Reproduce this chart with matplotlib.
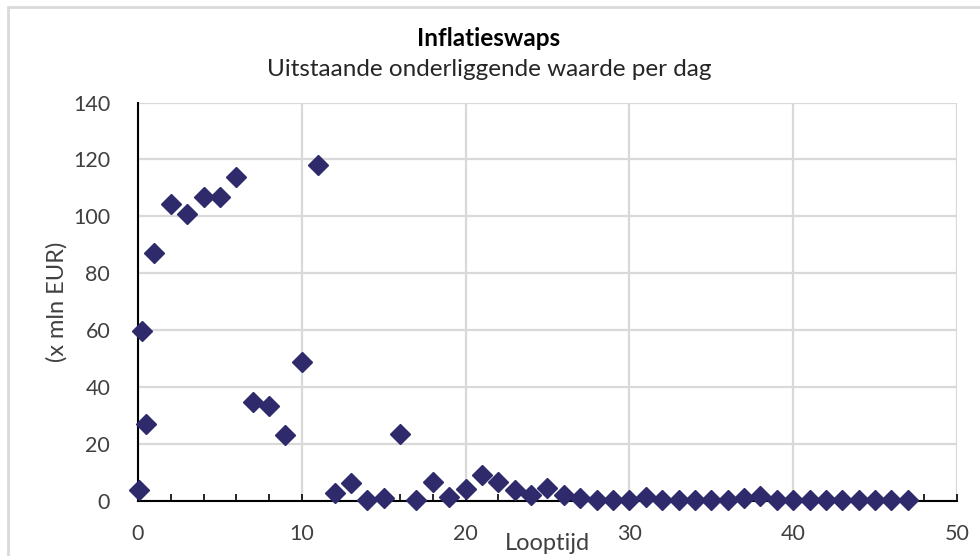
import numpy as np
import matplotlib.pyplot as plt
from matplotlib.patches import Rectangle

plt.rcParams['font.family'] = ['Lato', 'DejaVu Sans']

# looptijd in jaren (eerste drie: 1 maand, 3 maanden, 6 maanden)
looptijd = np.array([0.08, 0.25, 0.5] + list(range(1, 48)), dtype=float)
waarde = np.array([
    3.7, 59.5, 27.0,                                   # 0.08, 0.25, 0.5
    87.0, 104.5, 100.8, 106.7, 106.7, 114.0, 34.7,     # 1-7
    33.4, 23.1, 48.7, 118.1, 2.6, 6.1, 0.1,            # 8-14
    0.8, 23.4, 0.1, 6.7, 1.4, 4.1, 9.1,                # 15-21
    6.7, 3.8, 2.0, 4.6, 2.0, 0.8, 0.1,                 # 22-28
    0.1, 0.1, 1.3, 0.3, 0.1, 0.1, 0.1,                 # 29-35
    0.1, 0.8, 1.8, 0.1, 0.4, 0.1, 0.1,                 # 36-42
    0.1, 0.1, 0.1, 0.1, 0.1,                           # 43-47
])

titel = 'Inflatieswaps'
subtitel = 'Uitstaande onderliggende waarde per dag'
kleur = '#2E2A6B'
grid = '#D9D9D9'

fig = plt.figure(figsize=(9.8, 5.56), dpi=100)
ax = fig.add_axes([0.1408, 0.0995, 0.8357, 0.716])

# grijze rand van het kader (alleen links en boven zichtbaar)
fig.patches.append(Rectangle((8 / 980, -0.1), 1.2, 1 - 7 / 556 + 0.1,
                             transform=fig.transFigure, fill=False,
                             edgecolor=grid, lw=2))

ax.plot(looptijd, waarde, 'D', color=kleur, markersize=10.5,
        clip_on=False, zorder=5)

ax.set_xlim(0, 50)
ax.set_ylim(0, 140)
ax.set_xticks(np.arange(0, 51, 10))
ax.set_xticks(np.arange(0, 51, 2), minor=True)
ax.set_yticks(np.arange(0, 141, 20))
ax.grid(True, color=grid, lw=1.6)
ax.set_axisbelow(True)

for s in ['top', 'right']:
    ax.spines[s].set_visible(False)
for s in ['left', 'bottom']:
    ax.spines[s].set_color('black')
    ax.spines[s].set_linewidth(1.5)

ax.tick_params(axis='x', which='both', direction='in', length=5, width=1.2,
               labelsize=15.5, pad=17, colors='black')
ax.tick_params(axis='y', length=0, labelsize=15.5, pad=20, colors='black')
for lbl in ax.get_xticklabels() + ax.get_yticklabels():
    lbl.set_color('#404040')

ax.set_xlabel('Looptijd', fontsize=17, color='#404040', labelpad=-8)
ax.set_ylabel('(x mln EUR)', fontsize=17, color='#404040', labelpad=4)

fig.text(0.499, 1 - 38 / 556, titel, ha='center', va='center',
         fontsize=17.5, fontweight='bold', color='black')
fig.text(0.499, 1 - 70 / 556, subtitel, ha='center', va='center',
         fontsize=17.5, color='#262626')

fig.savefig('out.png', dpi=100, facecolor='white')
